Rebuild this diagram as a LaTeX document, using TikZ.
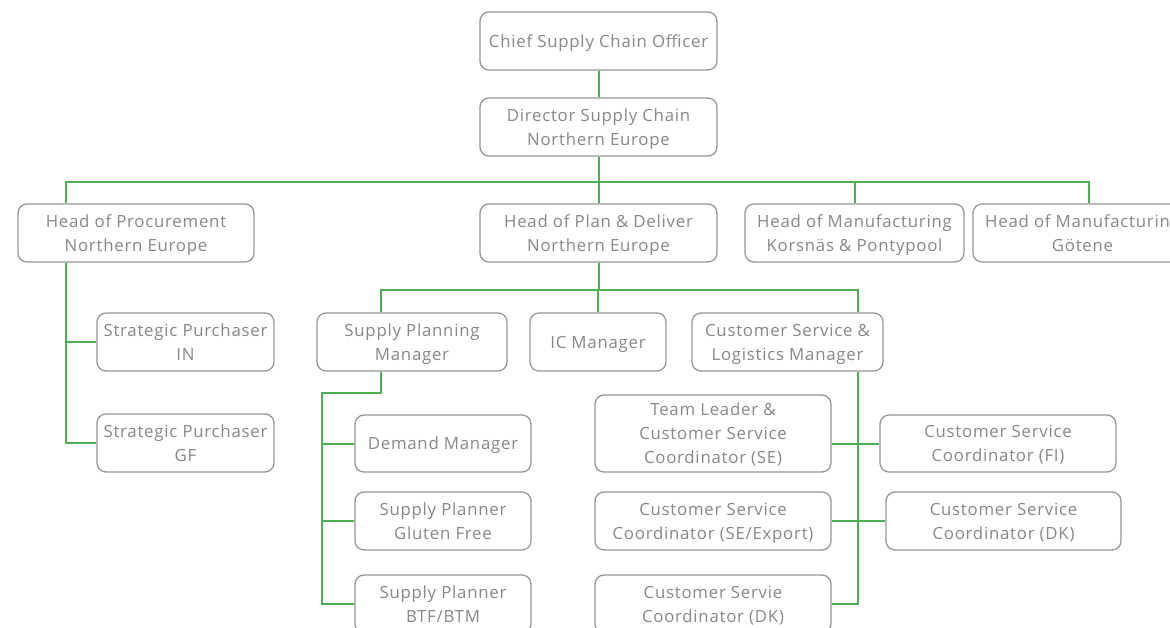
\documentclass[tikz,border=0pt]{standalone}
\usepackage{fontspec}
\setmainfont{Open Sans}[LetterSpace=4.5]
\definecolor{lgreen}{RGB}{76,175,80}
\definecolor{bgray}{RGB}{150,150,150}
\definecolor{tgray}{RGB}{135,135,135}
\begin{document}
\begin{tikzpicture}[x=1pt,y=-1pt,
  box/.style={draw=bgray,line width=1.3pt,rounded corners=9pt,fill=white,text=tgray,align=center,
    font=\fontsize{16.8}{24}\selectfont,inner sep=0pt,text depth=0pt},
  conn/.style={draw=lgreen,line width=2pt}]
\clip (0,0) rectangle (1170,628);
\fill[white] (0,0) rectangle (1170,628);
% nodes
\node[box,minimum width=237pt,minimum height=58pt] (chief) at (598.5,41) {Chief Supply Chain Officer};
\node[box,minimum width=237pt,minimum height=58pt] (dir) at (598.5,127) {Director Supply Chain\\Northern Europe};
\node[box,minimum width=236pt,minimum height=58pt] (proc) at (136,233) {Head of Procurement\\Northern Europe};
\node[box,minimum width=237pt,minimum height=58pt] (plan) at (598.5,233) {Head of Plan \& Deliver\\Northern Europe};
\node[box,minimum width=219pt,minimum height=58pt] (kor) at (854.5,233) {Head of Manufacturing\\Korsnäs \& Pontypool};
\node[box,minimum width=219pt,minimum height=58pt] (got) at (1082.5,233) {Head of Manufacturing\\Götene};
\node[box,minimum width=177pt,minimum height=58pt] (in) at (185.5,342) {Strategic Purchaser\\IN};
\node[box,minimum width=177pt,minimum height=58pt] (gf) at (185.5,443) {Strategic Purchaser\\GF};
\node[box,minimum width=190pt,minimum height=58pt] (spm) at (412,342) {Supply Planning\\Manager};
\node[box,minimum width=136pt,minimum height=58pt] (ic) at (598,342) {IC Manager};
\node[box,minimum width=191pt,minimum height=58pt] (csl) at (787.5,342) {Customer Service \&\\Logistics Manager};
\node[box,minimum width=176pt,minimum height=57pt] (dem) at (443,443.5) {Demand Manager};
\node[box,minimum width=176pt,minimum height=58pt] (glu) at (443,521) {Supply Planner\\Gluten Free};
\node[box,minimum width=176pt,minimum height=58pt] (btf) at (443,604) {Supply Planner\\BTF/BTM};
\node[box,minimum width=236pt,minimum height=77pt] (tl) at (713,433.5) {Team Leader \&\\Customer Service\\Coordinator (SE)};
\node[box,minimum width=236pt,minimum height=57pt] (fi) at (998,443.5) {Customer Service\\Coordinator (FI)};
\node[box,minimum width=236pt,minimum height=58pt] (sex) at (713,521) {Customer Service\\Coordinator (SE/Export)};
\node[box,minimum width=235pt,minimum height=58pt] (dk) at (1003.5,521) {Customer Service\\Coordinator (DK)};
\node[box,minimum width=236pt,minimum height=58pt] (dk2) at (713,604) {Customer Servie\\Coordinator (DK)};
% connectors
\coordinate (b1l) at (66,182);
\coordinate (b1r) at (1089,182);
\coordinate (b2l) at (381,290);
\coordinate (b2r) at (858,290);
\coordinate (s1) at (381,393);
\coordinate (s2) at (322,393);
\draw[conn] (chief.south) -- (dir.north);
\draw[conn] (dir.south) -- (plan.north);
\draw[conn] (b1l |- proc.north) -- (b1l) -- (b1r) -- (b1r |- got.north);
\draw[conn] (kor.north) -- (kor.north |- b1l);
\draw[conn] (b1l |- proc.south) -- (b1l |- gf.west) -- (gf.west);
\draw[conn] (b1l |- in.west) -- (in.west);
\draw[conn] (plan.south) -- (plan.south |- b2l);
\draw[conn] (b2l |- spm.north) -- (b2l) -- (b2r) -- (b2r |- csl.north);
\draw[conn] (ic.north) -- (ic.north |- b2l);
\draw[conn] (b2r |- csl.south) -- (b2r |- dk2.east) -- (dk2.east);
\draw[conn] (fi.west -| tl.east) -- (fi.west);
\draw[conn] (sex.east) -- (dk.west);
\draw[conn] (s1 |- spm.south) -- (s1) -- (s2) -- (s2 |- btf.west) -- (btf.west);
\draw[conn] (s2 |- dem.west) -- (dem.west);
\draw[conn] (s2 |- glu.west) -- (glu.west);
\end{tikzpicture}
\end{document}
